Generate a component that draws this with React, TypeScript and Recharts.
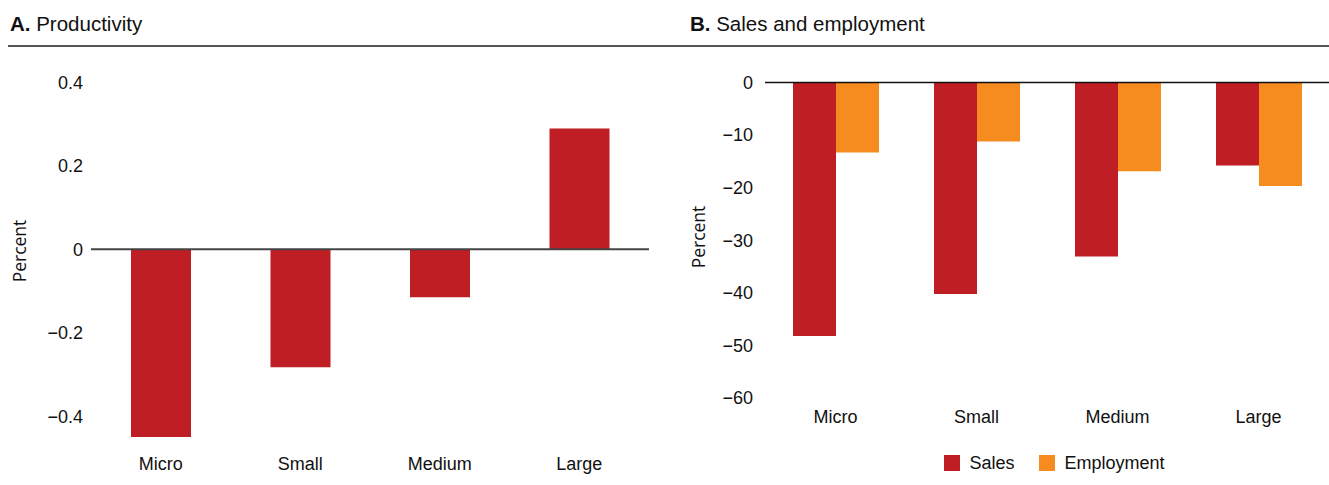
import React from 'react';
import { BarChart, Bar, XAxis, YAxis, ReferenceLine, Legend } from 'recharts';

const sizeClasses = ['Micro', 'Small', 'Medium', 'Large'];
const productivityValues = [-0.45, -0.283, -0.115, 0.29];
const salesValues = [-48.2, -40.2, -33.1, -15.8];
const employmentValues = [-13.3, -11.2, -16.9, -19.7];
const productivityTicks = [-0.4, -0.2, 0, 0.2, 0.4];
const salesEmploymentTicks = [0, -10, -20, -30, -40, -50, -60];
const seriesNames = ['Sales', 'Employment'];

const RED = '#BE1E24';
const ORANGE = '#F68B1F';
const FONT = "'Liberation Sans', Arial, sans-serif";

const productivityData = sizeClasses.map((name, i) => ({ name, productivity: productivityValues[i] }));
const salesEmploymentData = sizeClasses.map((name, i) => ({
  name,
  sales: salesValues[i],
  employment: employmentValues[i],
}));

const fmt = (v: number) => (v < 0 ? '\u2212' + String(Math.abs(v)) : String(v));

const tickStyle = { fill: '#111', fontSize: 18, fontFamily: FONT };

const LegendContent = (props: any) => {
  const payload = [...(props.payload || [])].sort(
    (a: any, b: any) => seriesNames.indexOf(a.value) - seriesNames.indexOf(b.value)
  );
  return (
    <div
      style={{
        height: 44,
        display: 'flex',
        justifyContent: 'center',
        alignItems: 'center',
        paddingLeft: 120,
        fontFamily: FONT,
        fontSize: 18,
        color: '#111',
      }}
    >
      {payload.map((p: any, i: number) => (
        <div key={i} style={{ display: 'flex', alignItems: 'center', marginLeft: i === 0 ? 0 : 25 }}>
          <div style={{ width: 16, height: 16, background: p.color, marginRight: 9 }} />
          <span>{p.value}</span>
        </div>
      ))}
    </div>
  );
};

const titleStyle: React.CSSProperties = {
  position: 'absolute',
  top: 12,
  fontFamily: FONT,
  fontSize: 20.5,
  color: '#111',
  whiteSpace: 'nowrap',
};

const percentStyle: React.CSSProperties = {
  position: 'absolute',
  fontFamily: "'Open Sans', sans-serif",
  fontSize: 17.5,
  color: '#111',
  transform: 'translate(-50%, -50%) rotate(-90deg)',
  whiteSpace: 'nowrap',
};

export default function App() {
  return (
    <div style={{ position: 'absolute', left: 0, top: 0, width: 1329, height: 485, background: '#fff', overflow: 'hidden' }}>
      <div style={{ ...titleStyle, left: 10 }}>
        <b>A.</b> Productivity
      </div>
      <div style={{ ...titleStyle, left: 690 }}>
        <b>B.</b> Sales and employment
      </div>
      <div style={{ position: 'absolute', left: 8, top: 45, width: 1321, height: 2, background: '#555' }} />

      <div style={{ position: 'absolute', left: 0, top: 0 }}>
        <BarChart
          width={660}
          height={485}
          data={productivityData}
          margin={{ top: 82.5, right: 11, left: 0, bottom: 0 }}
        >
          <XAxis
            dataKey="name"
            height={48}
            axisLine={false}
            tickLine={false}
            tickMargin={14}
            tick={tickStyle}
            interval={0}
          />
          <YAxis
            width={91}
            domain={[-0.45, 0.4]}
            ticks={productivityTicks}
            allowDataOverflow
            axisLine={false}
            tickLine={false}
            tickMargin={2}
            tick={tickStyle}
            tickFormatter={fmt}
          />
          <Bar dataKey="productivity" fill={RED} barSize={60} isAnimationActive={false} />
          <ReferenceLine y={0} stroke="#444" strokeWidth={2} />
        </BarChart>
      </div>
      <div style={{ ...percentStyle, left: 19, top: 251 }}>Percent</div>

      <div style={{ position: 'absolute', left: 660, top: 0 }}>
        <BarChart
          width={669}
          height={485}
          data={salesEmploymentData}
          margin={{ top: 82.5, right: 0, left: 0, bottom: 0 }}
          barGap={0}
        >
          <XAxis
            dataKey="name"
            height={43}
            axisLine={false}
            tickLine={false}
            tickMargin={6}
            tick={tickStyle}
            interval={0}
          />
          <YAxis
            width={105}
            domain={[-60, 0]}
            ticks={salesEmploymentTicks}
            axisLine={false}
            tickLine={false}
            tickMargin={6}
            tick={tickStyle}
            tickFormatter={fmt}
          />
          <Legend verticalAlign="bottom" content={LegendContent} />
          <Bar dataKey="sales" name="Sales" fill={RED} barSize={43} isAnimationActive={false} />
          <Bar dataKey="employment" name="Employment" fill={ORANGE} barSize={43} isAnimationActive={false} />
          <ReferenceLine y={0} stroke="#111" strokeWidth={1.5} />
        </BarChart>
      </div>
      <div style={{ ...percentStyle, left: 698, top: 237 }}>Percent</div>
    </div>
  );
}
